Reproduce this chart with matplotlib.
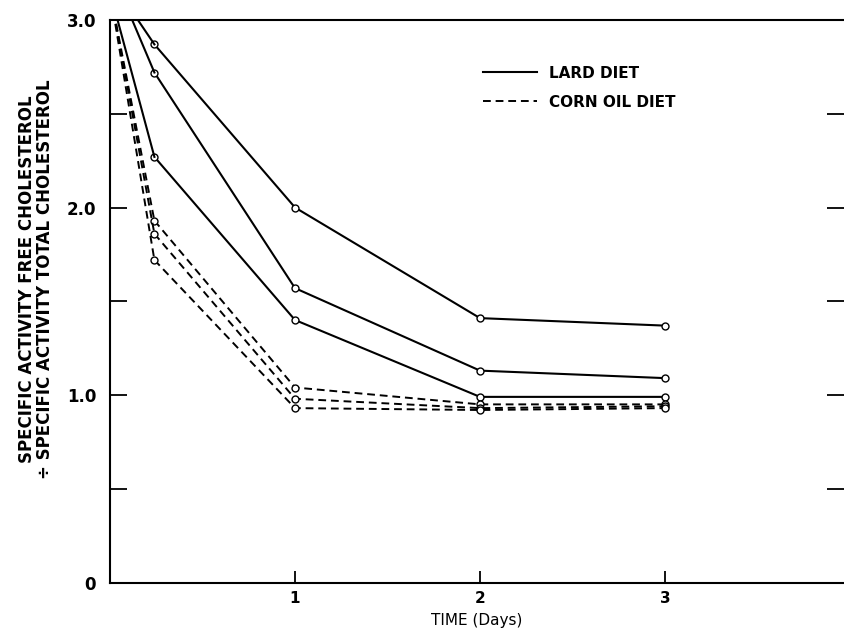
import matplotlib
matplotlib.use("Agg")
import matplotlib.pyplot as plt
from matplotlib.lines import Line2D

# Time points (days)
days = [0.0, 0.24, 1.0, 2.0, 3.0]

# Lard diet (solid) series
lard_a = [3.22, 2.87, 2.00, 1.41, 1.37]
lard_b = [3.28, 2.72, 1.57, 1.13, 1.09]
lard_c = [3.15, 2.27, 1.40, 0.99, 0.99]

# Corn oil diet (dashed) series
corn_a = [3.15, 1.93, 1.04, 0.95, 0.95]
corn_b = [3.15, 1.86, 0.98, 0.93, 0.94]
corn_c = [3.15, 1.72, 0.93, 0.92, 0.93]

xtick_vals = [1, 2, 3]
xtick_labels = ["1", "2", "3"]
ytick_major = [0, 1.0, 2.0, 3.0]
ytick_labels = ["0", "1.0", "2.0", "3.0"]
ytick_minor = [0.5, 1.5, 2.5]

plt.rcParams['font.family'] = ['DejaVu Sans']

fig = plt.figure(figsize=(8.44, 6.37), dpi=100)
ax = fig.add_axes([110/844, 1 - 582.5/637, 734/844, 562.5/637])

mk = dict(marker='o', markersize=5, markerfacecolor='white',
          markeredgecolor='black', markeredgewidth=1.0, color='black',
          clip_on=True)
for s in (lard_a, lard_b, lard_c):
    ax.plot(days[1:], s[1:], lw=1.5, linestyle='-', **mk)
    ax.plot(days[:2], s[:2], lw=1.5, linestyle='-', color='black')
dash = (0, (4, 2.5))
for s in (corn_a, corn_b, corn_c):
    ax.plot(days[1:], s[1:], lw=1.4, linestyle=dash, **mk)
    ax.plot(days[:2], s[:2], lw=1.4, linestyle=dash, color='black')

ax.set_xlim(0, 734/185)
ax.set_ylim(0, 3.0)

ax.spines['right'].set_visible(False)
for sp in ('left', 'bottom', 'top'):
    ax.spines[sp].set_linewidth(1.5)

ax.set_xticks(xtick_vals)
ax.set_xticklabels(xtick_labels, fontsize=11, fontweight='bold')
ax.set_yticks(ytick_major)
ax.set_yticklabels(ytick_labels, fontsize=12, fontweight='bold')
ax.set_yticks(ytick_minor, minor=True)
ax.tick_params(axis='x', direction='in', length=9, width=1.3, pad=6)
ax.tick_params(axis='y', which='both', direction='in', length=12, width=1.3,
               right=True, pad=10)

ax.set_xlabel("TIME (Days)", fontsize=11, labelpad=5)
ax.set_ylabel("SPECIFIC ACTIVITY FREE CHOLESTEROL\n\u00f7 SPECIFIC ACTIVITY TOTAL CHOLESTEROL",
              fontsize=12, fontweight='bold', linespacing=1.05)
ax.yaxis.set_label_coords(-0.076, 0.54)

handles = [Line2D([], [], color='black', lw=1.5, linestyle='-'),
           Line2D([], [], color='black', lw=1.4, linestyle=dash)]
leg = ax.legend(handles, ["LARD DIET", "CORN OIL DIET"], frameon=False,
                loc='upper left', bbox_to_anchor=(0.49, 0.943),
                handlelength=3.5, handletextpad=0.8, labelspacing=0.9,
                prop=dict(size=11, weight='bold'))

fig.savefig("out.png", dpi=100)
